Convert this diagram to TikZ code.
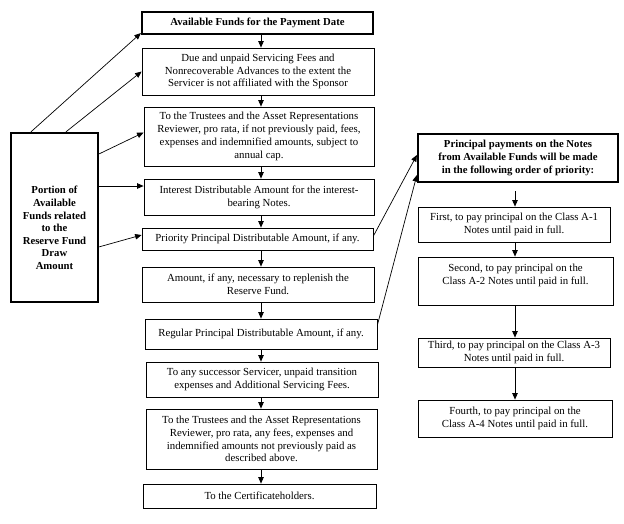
\documentclass[tikz,border=0pt]{standalone}
\usepackage{fontspec}
\setmainfont{Liberation Serif}
\usetikzlibrary{arrows.meta}
\begin{document}
\begin{tikzpicture}[x=1pt,y=-1pt,
  txt/.style={font=\fontsize{10.8}{12.8}\selectfont},
  btxt/.style={font=\fontsize{10.7}{12.6}\selectfont\bfseries},
  box/.style={draw, line width=0.8pt, inner sep=0pt, align=center, txt},
  thickbox/.style={draw, line width=2.2pt, inner sep=0pt, align=center, btxt},
  arr/.style={line width=0.7pt, -{Triangle[length=6.5pt,width=5.5pt]}},
]
\useasboundingbox (0,0) rectangle (624,523);

% middle column
\node[thickbox, minimum width=231pt, minimum height=22pt] (top) at (257.5,23) {Available Funds for the Payment Date};
\node[box, minimum width=232pt, minimum height=47pt] (b2) at (258,71.5) {Due and unpaid Servicing Fees and\\Nonrecoverable Advances to the extent the\\Servicer is not affiliated with the Sponsor};
\node[box, minimum width=230pt, minimum height=59pt] (b3) at (259,136.5) {To the Trustees and the Asset Representations\\Reviewer, pro rata, if not previously paid, fees,\\expenses and indemnified amounts, subject to\\annual cap.};
\node[box, minimum width=230pt, minimum height=36pt] (b4) at (259,197) {Interest Distributable Amount for the interest-\\bearing Notes.};
\node[box, minimum width=231pt, minimum height=22pt] (b5) at (257.5,239) {Priority Principal Distributable Amount, if any.};
\node[box, minimum width=232pt, minimum height=35pt] (b6) at (258,284.5) {Amount, if any, necessary to replenish the\\Reserve Fund.};
\node[box, minimum width=232pt, minimum height=30pt] (b7) at (261,334) {Regular Principal Distributable Amount, if any.};
\node[box, minimum width=232pt, minimum height=35pt] (b8) at (262,379.5) {To any successor Servicer, unpaid transition\\expenses and Additional Servicing Fees.};
\node[box, minimum width=231pt, minimum height=60pt] (b9) at (261.5,439) {To the Trustees and the Asset Representations\\Reviewer, pro rata, any fees, expenses and\\indemnified amounts not previously paid as\\described above.};
\node[box, minimum width=233pt, minimum height=24pt] (b10) at (259.5,496) {To the Certificateholders.};

\coordinate (mx) at (261,0);
\draw[arr] (top.south -| mx) -- (b2.north -| mx);
\draw[arr] (b2.south -| mx) -- (b3.north -| mx);
\draw[arr] (b3.south -| mx) -- (b4.north -| mx);
\draw[arr] (b4.south -| mx) -- (b5.north -| mx);
\draw[arr] (b5.south -| mx) -- (b6.north -| mx);
\draw[arr] (b6.south -| mx) -- (b7.north -| mx);
\draw[arr] (b7.south -| mx) -- (b8.north -| mx);
\draw[arr] (b8.south -| mx) -- (b9.north -| mx);
\draw[arr] (b9.south -| mx) -- (b10.north -| mx);

% left box
\node[draw, line width=2.2pt, minimum width=87pt, minimum height=169pt, inner sep=0pt] (L) at (54.5,217.5) {};
\node[btxt, align=center, inner sep=0pt] (Lt) at (54.5,228) {Portion of\\Available\\Funds related\\to the\\Reserve Fund\\Draw\\Amount};

\draw[arr] ([xshift=21pt]L.north west) -- ([yshift=2pt]top.south west);
\draw[arr] ([xshift=56pt]L.north west) -- (b2.west);
\draw[arr] ([yshift=-22pt]L.north east) -- ([yshift=4pt]b3.west);
\coordinate (e4) at ([yshift=11pt]b4.west);
\draw[arr] (L.east |- e4) -- (e4);
\draw[arr] ([yshift=-115pt]L.north east) -- ([yshift=4pt]b5.west);

% right column
\node[thickbox, minimum width=200pt, minimum height=48pt] (hdr) at (518,158) {Principal payments on the Notes\\from Available Funds will be made\\in the following order of priority:};
\node[box, minimum width=192pt, minimum height=35pt] (r1) at (514,224.5) {First, to pay principal on the Class A-1\\Notes until paid in full.};
\node[box, minimum width=195pt, minimum height=48pt] (r2) at (515.5,281) {Second, to pay principal on the\\Class A-2 Notes until paid in full.\\\mbox{}};
\node[box, minimum width=192pt, minimum height=29pt] (r3) at (514,352.5) {Third, to pay principal on the Class A-3\\Notes until paid in full.};
\node[box, minimum width=194pt, minimum height=37pt] (r4) at (515,418.5) {Fourth, to pay principal on the\\Class A-4 Notes until paid in full.};

\coordinate (rx) at (515,0);
\coordinate (h1) at ([yshift=-8pt]hdr.south);
\draw[arr] (h1 -| rx) -- (r1.north -| rx);
\draw[arr] (r1.south -| rx) -- (r2.north -| rx);
\draw[arr] (r2.south -| rx) -- (r3.north -| rx);
\draw[arr] (r3.south -| rx) -- (r4.north -| rx);

\draw[arr] ([yshift=3pt]b5.east) -- ([yshift=3pt]hdr.west);
\draw[arr] ([yshift=9pt]b7.east) -- ([yshift=-17pt]hdr.west);
\end{tikzpicture}
\end{document}
